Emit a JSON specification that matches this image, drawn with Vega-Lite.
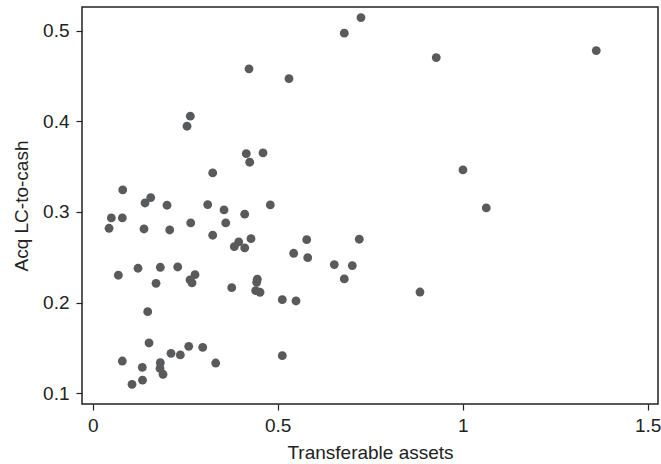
{
  "$schema": "https://vega.github.io/schema/vega-lite/v6.json",
  "autosize": "none",
  "width": 576,
  "height": 397,
  "padding": {"left": 82, "top": 7, "right": 3, "bottom": 60},
  "background": "white",
  "config": {
    "view": {"stroke": "#222222", "strokeWidth": 1.5},
    "font": "Liberation Sans",
    "axis": {
      "domain": false,
      "grid": false,
      "tickColor": "#222222",
      "tickSize": 6,
      "tickWidth": 1.2,
      "labelFont": "Liberation Sans",
      "labelFontSize": 19,
      "labelColor": "#222222",
      "titleFont": "Liberation Sans",
      "titleFontSize": 19,
      "titleFontWeight": "normal",
      "titleColor": "#222222"
    }
  },
  "data": {
    "values": [
      {"ta": 0.4224, "lc": 0.4578}, {"ta": 0.5305, "lc": 0.4471}, {"ta": 0.2638, "lc": 0.4056}, {"ta": 0.2549, "lc": 0.3945},
      {"ta": 0.3243, "lc": 0.343}, {"ta": 0.4151, "lc": 0.3643}, {"ta": 0.4243, "lc": 0.3548}, {"ta": 0.4603, "lc": 0.3651},
      {"ta": 0.0811, "lc": 0.3243}, {"ta": 0.1568, "lc": 0.3158}, {"ta": 0.1414, "lc": 0.3099}, {"ta": 0.2008, "lc": 0.3074},
      {"ta": 0.3108, "lc": 0.3081}, {"ta": 0.48, "lc": 0.3077}, {"ta": 0.0503, "lc": 0.2934}, {"ta": 0.08, "lc": 0.2934},
      {"ta": 0.3549, "lc": 0.3022}, {"ta": 0.4108, "lc": 0.2975}, {"ta": 0.2649, "lc": 0.2879}, {"ta": 0.3595, "lc": 0.2879},
      {"ta": 0.0441, "lc": 0.282}, {"ta": 0.1386, "lc": 0.2812}, {"ta": 0.2081, "lc": 0.2801}, {"ta": 0.3243, "lc": 0.2743},
      {"ta": 0.3827, "lc": 0.2617}, {"ta": 0.3946, "lc": 0.2669}, {"ta": 0.4108, "lc": 0.2603}, {"ta": 0.4278, "lc": 0.2705},
      {"ta": 0.5784, "lc": 0.2694}, {"ta": 0.5432, "lc": 0.2544}, {"ta": 0.5811, "lc": 0.2496}, {"ta": 0.0692, "lc": 0.2302},
      {"ta": 0.1224, "lc": 0.2379}, {"ta": 0.1827, "lc": 0.239}, {"ta": 0.2297, "lc": 0.2393}, {"ta": 0.2765, "lc": 0.2308},
      {"ta": 0.263, "lc": 0.225}, {"ta": 0.2684, "lc": 0.2217}, {"ta": 0.1711, "lc": 0.2213}, {"ta": 0.3757, "lc": 0.2165},
      {"ta": 0.4449, "lc": 0.2258}, {"ta": 0.4432, "lc": 0.2224}, {"ta": 0.4405, "lc": 0.2132}, {"ta": 0.4522, "lc": 0.2114},
      {"ta": 0.5124, "lc": 0.2033}, {"ta": 0.5495, "lc": 0.2018}, {"ta": 0.1486, "lc": 0.19}, {"ta": 0.1522, "lc": 0.1555},
      {"ta": 0.08, "lc": 0.1356}, {"ta": 0.2116, "lc": 0.1441}, {"ta": 0.2368, "lc": 0.1423}, {"ta": 0.2595, "lc": 0.1518},
      {"ta": 0.2973, "lc": 0.1507}, {"ta": 0.3324, "lc": 0.1334}, {"ta": 0.1827, "lc": 0.1338}, {"ta": 0.1819, "lc": 0.1274},
      {"ta": 0.19, "lc": 0.121}, {"ta": 0.134, "lc": 0.1285}, {"ta": 0.1346, "lc": 0.1145}, {"ta": 0.1062, "lc": 0.1099},
      {"ta": 0.5124, "lc": 0.1415}, {"ta": 0.7205, "lc": 0.2699}, {"ta": 0.653, "lc": 0.2419}, {"ta": 0.7016, "lc": 0.2408},
      {"ta": 0.68, "lc": 0.2261}, {"ta": 0.8846, "lc": 0.2117}, {"ta": 0.7251, "lc": 0.5143}, {"ta": 0.68, "lc": 0.4971},
      {"ta": 0.9286, "lc": 0.4702}, {"ta": 1.3611, "lc": 0.4779}, {"ta": 1.0008, "lc": 0.3463}, {"ta": 1.0638, "lc": 0.3044}
    ]
  },
  "mark": {"type": "circle", "size": 78, "color": "#595a5c", "opacity": 1},
  "encoding": {
    "x": {
      "field": "ta", "type": "quantitative",
      "scale": {"domain": [-0.029, 1.528], "nice": false, "zero": false},
      "axis": {"values": [0, 0.5, 1, 1.5], "format": "~g", "title": "Transferable assets", "labelPadding": 6, "titlePadding": 8}
    },
    "y": {
      "field": "lc", "type": "quantitative",
      "scale": {"domain": [0.0882, 0.526], "nice": false, "zero": false},
      "axis": {"values": [0.1, 0.2, 0.3, 0.4, 0.5], "format": ".1f", "title": "Acq LC-to-cash", "labelPadding": 7, "titlePadding": 11}
    }
  }
}
